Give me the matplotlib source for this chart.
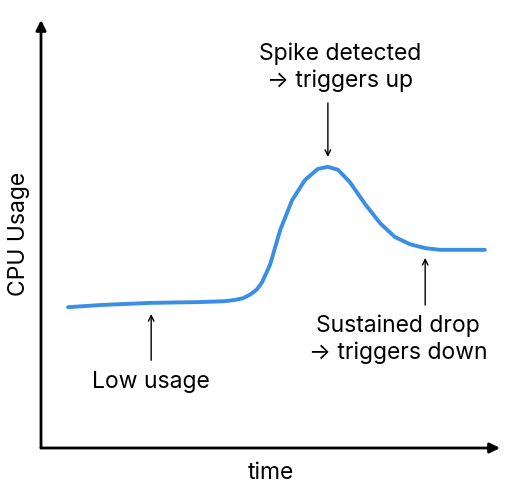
import matplotlib
matplotlib.use("Agg")
import matplotlib.pyplot as plt

time = [5.9, 12.9, 23.7, 34.6, 40.0, 42.3, 44.0, 45.5, 47.0, 48.1, 49.9, 52.1, 54.7, 57.5, 60.3, 62.5,
        64.7, 67.3, 70.6, 73.9, 77.1, 80.4, 83.7, 86.9, 96.7]
usage = [32.9, 33.4, 33.9, 34.1, 34.3, 34.6, 35.0, 35.8, 37.0, 38.6, 42.8, 50.9, 57.9, 62.6, 65.2, 65.7,
         65.0, 62.1, 57.0, 52.5, 49.3, 47.6, 46.7, 46.3, 46.3]

plt.rcParams['font.family'] = ['Inter', 'DejaVu Sans']
fig = plt.figure(figsize=(5.12, 4.92), dpi=100)
ax = fig.add_axes([41/512, 44/492, 459/512, 428/492])
ax.set_xlim(0, 100)
ax.set_ylim(0, 100)
ax.plot(time, usage, color='#3a8ee6', lw=2.8, solid_capstyle='round', solid_joinstyle='round')

for s in ax.spines.values():
    s.set_visible(False)
ax.set_xticks([]); ax.set_yticks([])
ax.annotate('', xy=(100, 0), xytext=(0, 0), arrowprops=dict(arrowstyle='-|>', color='black', lw=2, mutation_scale=15, shrinkA=0, shrinkB=0), annotation_clip=False)
ax.annotate('', xy=(0, 100), xytext=(0, 0), arrowprops=dict(arrowstyle='-|>', color='black', lw=2, mutation_scale=15, shrinkA=0, shrinkB=0), annotation_clip=False)

fs = 16.5
ax.set_xlabel('time', fontsize=fs, labelpad=10)
ax.set_ylabel('CPU Usage', fontsize=fs, labelpad=8)

ap = dict(arrowstyle='->', color='black', lw=1, shrinkA=0, shrinkB=0)
ax.text(24, 15.4, 'Low usage', ha='center', va='center', fontsize=fs)
ax.annotate('', xy=(24, 31.3), xytext=(24, 20.5), arrowprops=ap)
ax.text(65.2, 89.0, 'Spike detected\n→ triggers up', ha='center', va='center', fontsize=fs, linespacing=1.25)
ax.annotate('', xy=(62.5, 68), xytext=(62.5, 80.6), arrowprops=ap)
ax.text(77.8, 25.5, 'Sustained drop\n→ triggers down', ha='center', va='center', fontsize=fs, linespacing=1.25)
ax.annotate('', xy=(83.7, 44.4), xytext=(83.7, 33.4), arrowprops=ap)

fig.savefig('out.png', dpi=100)
